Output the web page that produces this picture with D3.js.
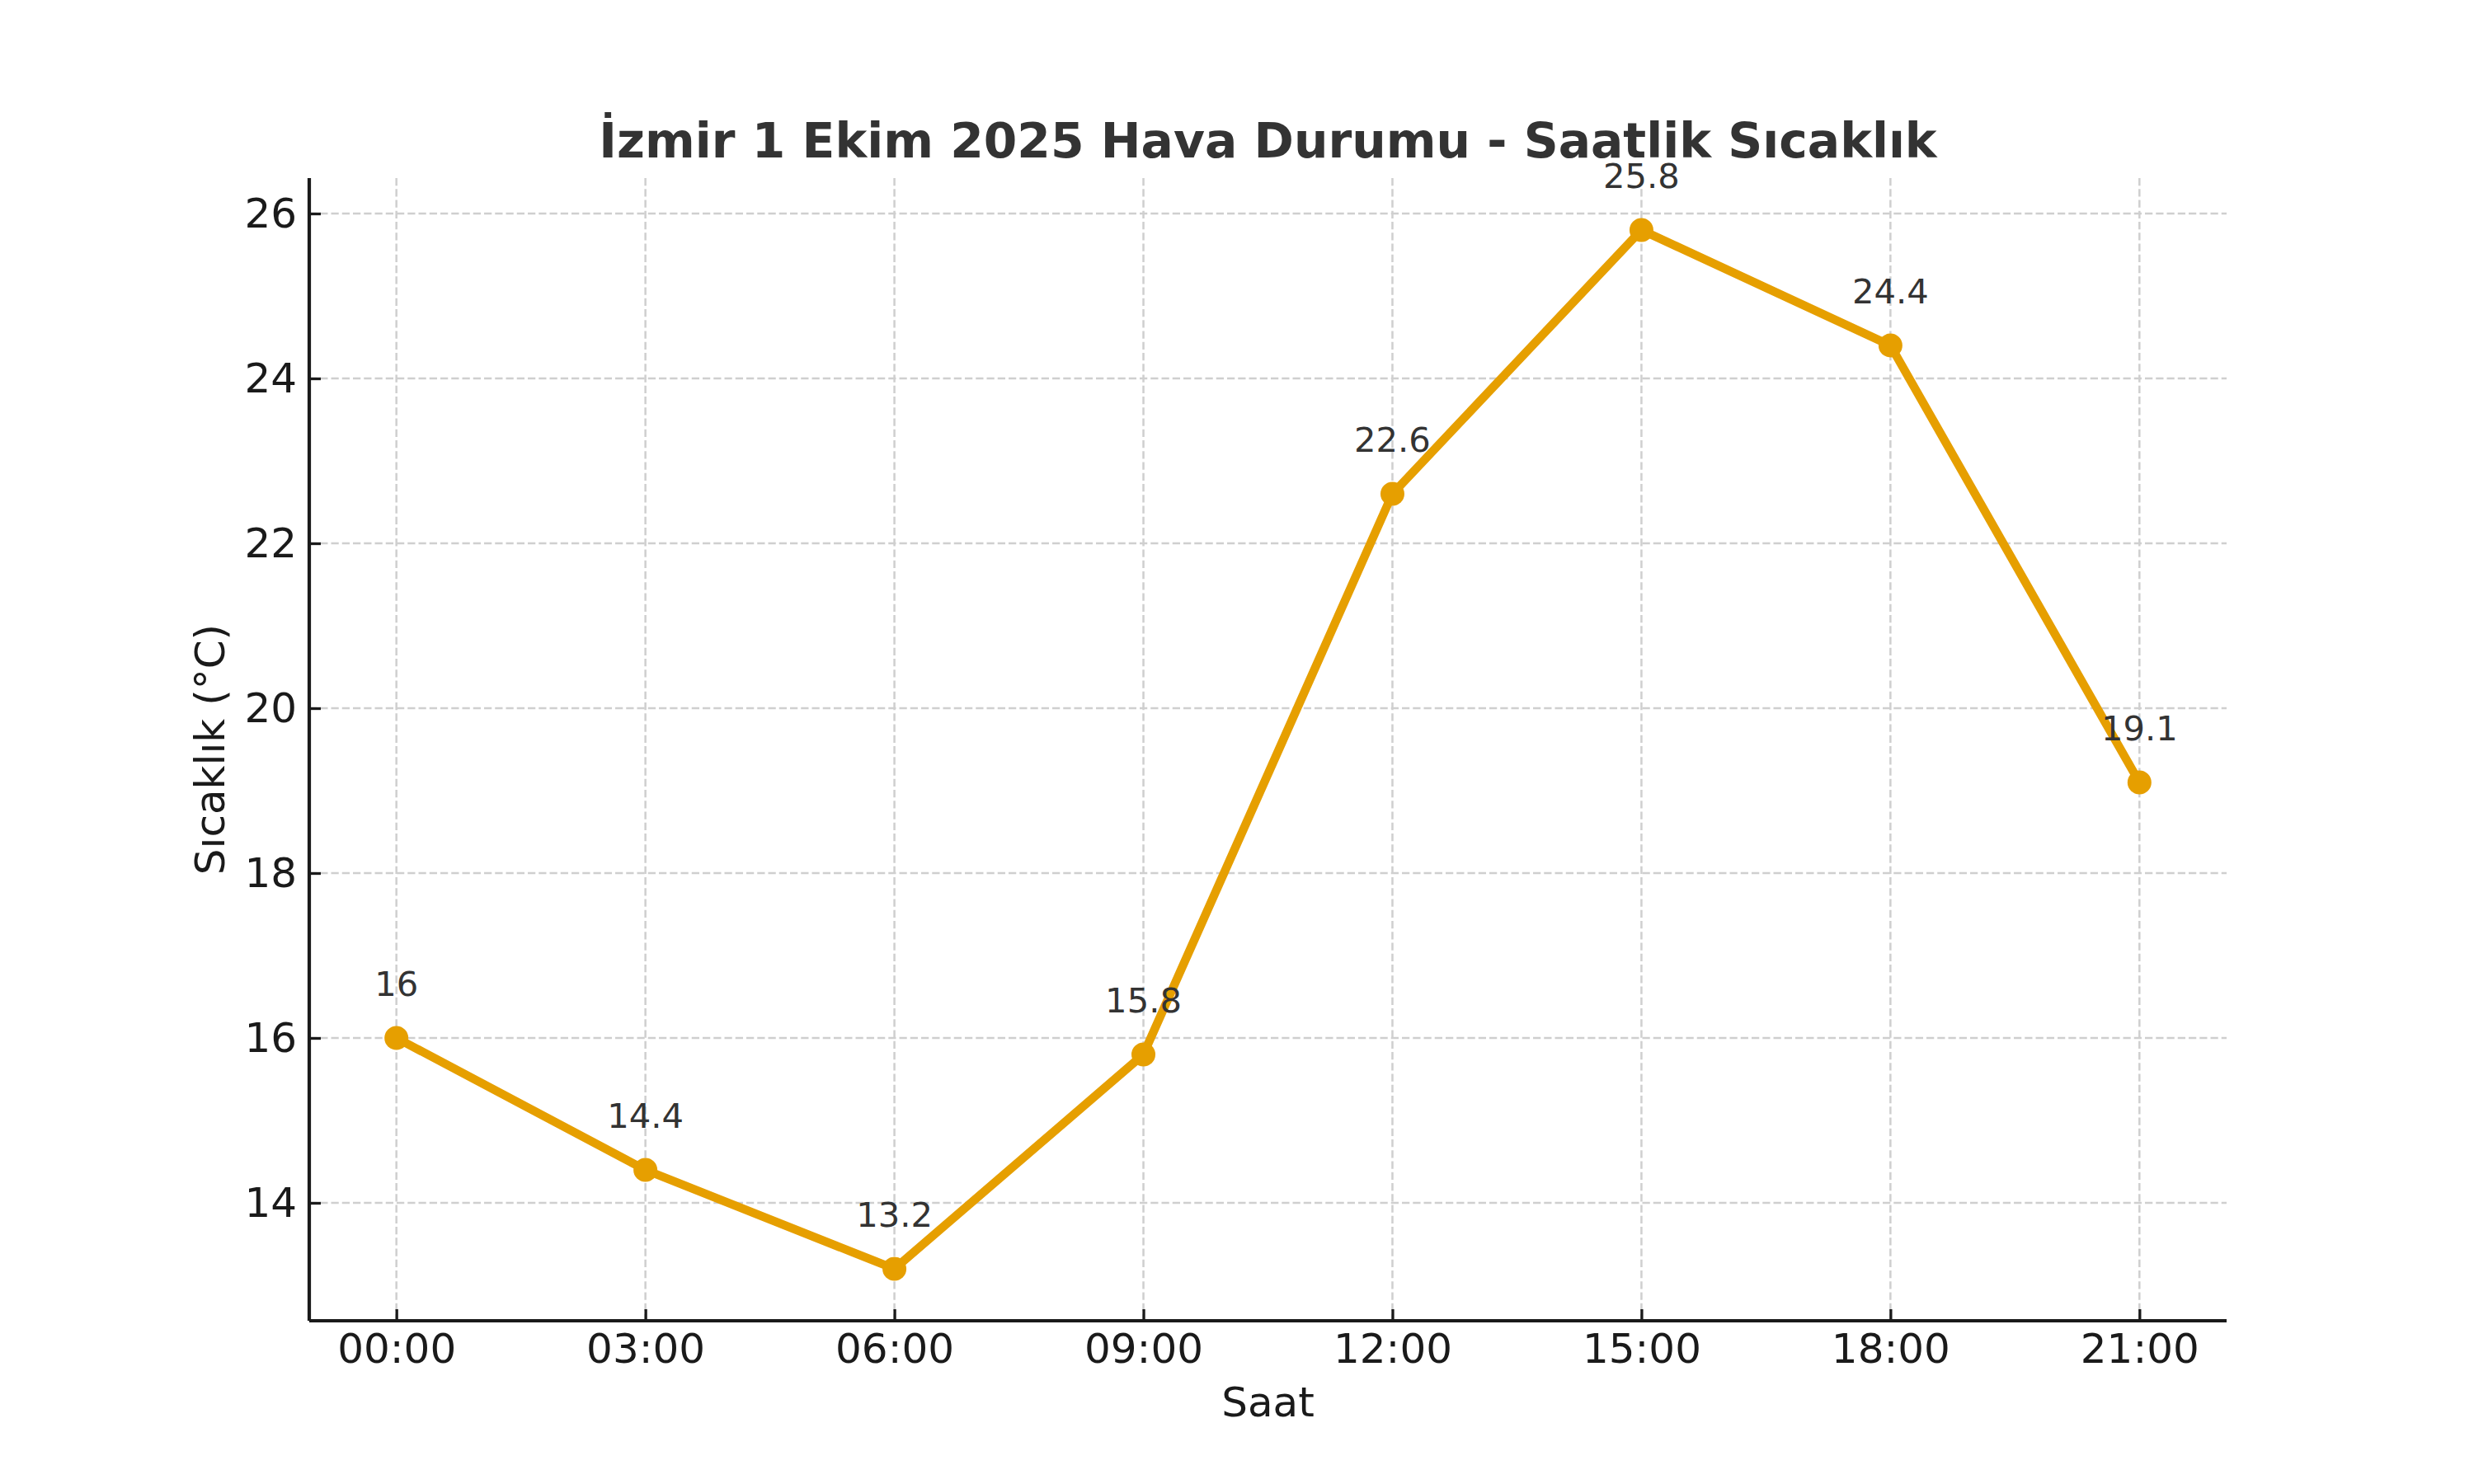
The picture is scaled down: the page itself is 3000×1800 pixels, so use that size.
<!DOCTYPE html>
<html>
<head>
<meta charset="utf-8">
<script src="https://cdn.jsdelivr.net/npm/d3@7"></script>
<style>
  html, body { margin: 0; padding: 0; background: #fff; }
  svg { display: block; font-family: "DejaVu Sans", sans-serif; }
</style>
</head>
<body>
<div id="chart"></div>
<script>
const hours = ['00:00', '03:00', '06:00', '09:00', '12:00', '15:00', '18:00', '21:00'];
const temps = [16, 14.4, 13.2, 15.8, 22.6, 25.8, 24.4, 19.1];
const yTicks = [14, 16, 18, 20, 22, 24, 26];

const title = 'İzmir 1 Ekim 2025 Hava Durumu - Saatlik Sıcaklık';
const xLabel = 'Saat';
const yLabel = 'Sıcaklık (°C)';

const width = 3000;
const height = 1800;
const plot = { left: 375, right: 2700, top: 216, bottom: 1602 };
const lineColor = '#E69F00';
const gridColor = '#cfcfcf';
const inkColor = '#1a1a1a';

// matplotlib style 5% margins on both axes
const xPad = (hours.length - 1) * 0.05;
const yMin = d3.min(temps);
const yMax = d3.max(temps);
const yPad = (yMax - yMin) * 0.05;

const x = d3.scaleLinear()
  .domain([-xPad, hours.length - 1 + xPad])
  .range([plot.left, plot.right]);
const y = d3.scaleLinear()
  .domain([yMin - yPad, yMax + yPad])
  .range([plot.bottom, plot.top]);

const svg = d3.select('#chart')
  .append('svg')
  .attr('width', width)
  .attr('height', height);

// grid
const grid = svg.append('g')
  .attr('stroke', gridColor)
  .attr('stroke-width', 2.5)
  .attr('stroke-dasharray', '9.25,4');
grid.selectAll('.gx')
  .data(d3.range(hours.length))
  .enter()
  .append('line')
  .attr('x1', (d) => x(d))
  .attr('x2', (d) => x(d))
  .attr('y1', plot.top)
  .attr('y2', plot.bottom);
grid.selectAll('.gy')
  .data(yTicks)
  .enter()
  .append('line')
  .attr('x1', plot.left)
  .attr('x2', plot.right)
  .attr('y1', (d) => y(d))
  .attr('y2', (d) => y(d));

// axes
const xAxis = svg.append('g')
  .attr('transform', `translate(0, ${plot.bottom})`)
  .call(d3.axisBottom(x)
    .tickValues(d3.range(hours.length))
    .tickFormat((i) => hours[i])
    .tickSizeInner(-14)
    .tickSizeOuter(0)
    .tickPadding(15));
const yAxis = svg.append('g')
  .attr('transform', `translate(${plot.left}, 0)`)
  .call(d3.axisLeft(y)
    .tickValues(yTicks)
    .tickFormat(d3.format('d'))
    .tickSizeInner(-14)
    .tickSizeOuter(0)
    .tickPadding(15));

[xAxis, yAxis].forEach((g) => {
  g.select('.domain')
    .attr('stroke', inkColor)
    .attr('stroke-width', 4.2);
  g.selectAll('.tick line')
    .attr('stroke', inkColor)
    .attr('stroke-width', 3.3);
  g.selectAll('.tick text')
    .attr('fill', inkColor)
    .attr('font-size', 50)
    .attr('font-family', '"DejaVu Sans", sans-serif');
});
// extend x spine to full axes width
xAxis.select('.domain').attr('d', `M${plot.left},0H${plot.right}`);
yAxis.select('.domain').attr('d', `M0,${plot.bottom}V${plot.top}`);

// line
const line = d3.line()
  .x((d, i) => x(i))
  .y((d) => y(d));
svg.append('path')
  .datum(temps)
  .attr('d', line)
  .attr('fill', 'none')
  .attr('stroke', lineColor)
  .attr('stroke-width', 10.4)
  .attr('stroke-linejoin', 'round');

svg.selectAll('.pt')
  .data(temps)
  .enter()
  .append('circle')
  .attr('cx', (d, i) => x(i))
  .attr('cy', (d) => y(d))
  .attr('r', 14.5)
  .attr('fill', lineColor);

// value labels
svg.selectAll('.lbl')
  .data(temps)
  .enter()
  .append('text')
  .attr('x', (d, i) => x(i))
  .attr('y', (d) => y(d) - 51)
  .attr('text-anchor', 'middle')
  .attr('font-size', 41.7)
  .attr('fill', '#333')
  .text((d) => String(d));

// title and axis labels
svg.append('text')
  .attr('x', (plot.left + plot.right) / 2)
  .attr('y', 191)
  .attr('text-anchor', 'middle')
  .attr('font-size', 58.3)
  .attr('font-weight', 'bold')
  .attr('fill', '#333')
  .text(title);

svg.append('text')
  .attr('x', (plot.left + plot.right) / 2)
  .attr('y', 1718)
  .attr('text-anchor', 'middle')
  .attr('font-size', 50)
  .attr('fill', inkColor)
  .text(xLabel);

svg.append('text')
  .attr('transform', `translate(272, ${(plot.top + plot.bottom) / 2}) rotate(-90)`)
  .attr('text-anchor', 'middle')
  .attr('font-size', 50)
  .attr('fill', inkColor)
  .text(yLabel);
</script>
</body>
</html>
